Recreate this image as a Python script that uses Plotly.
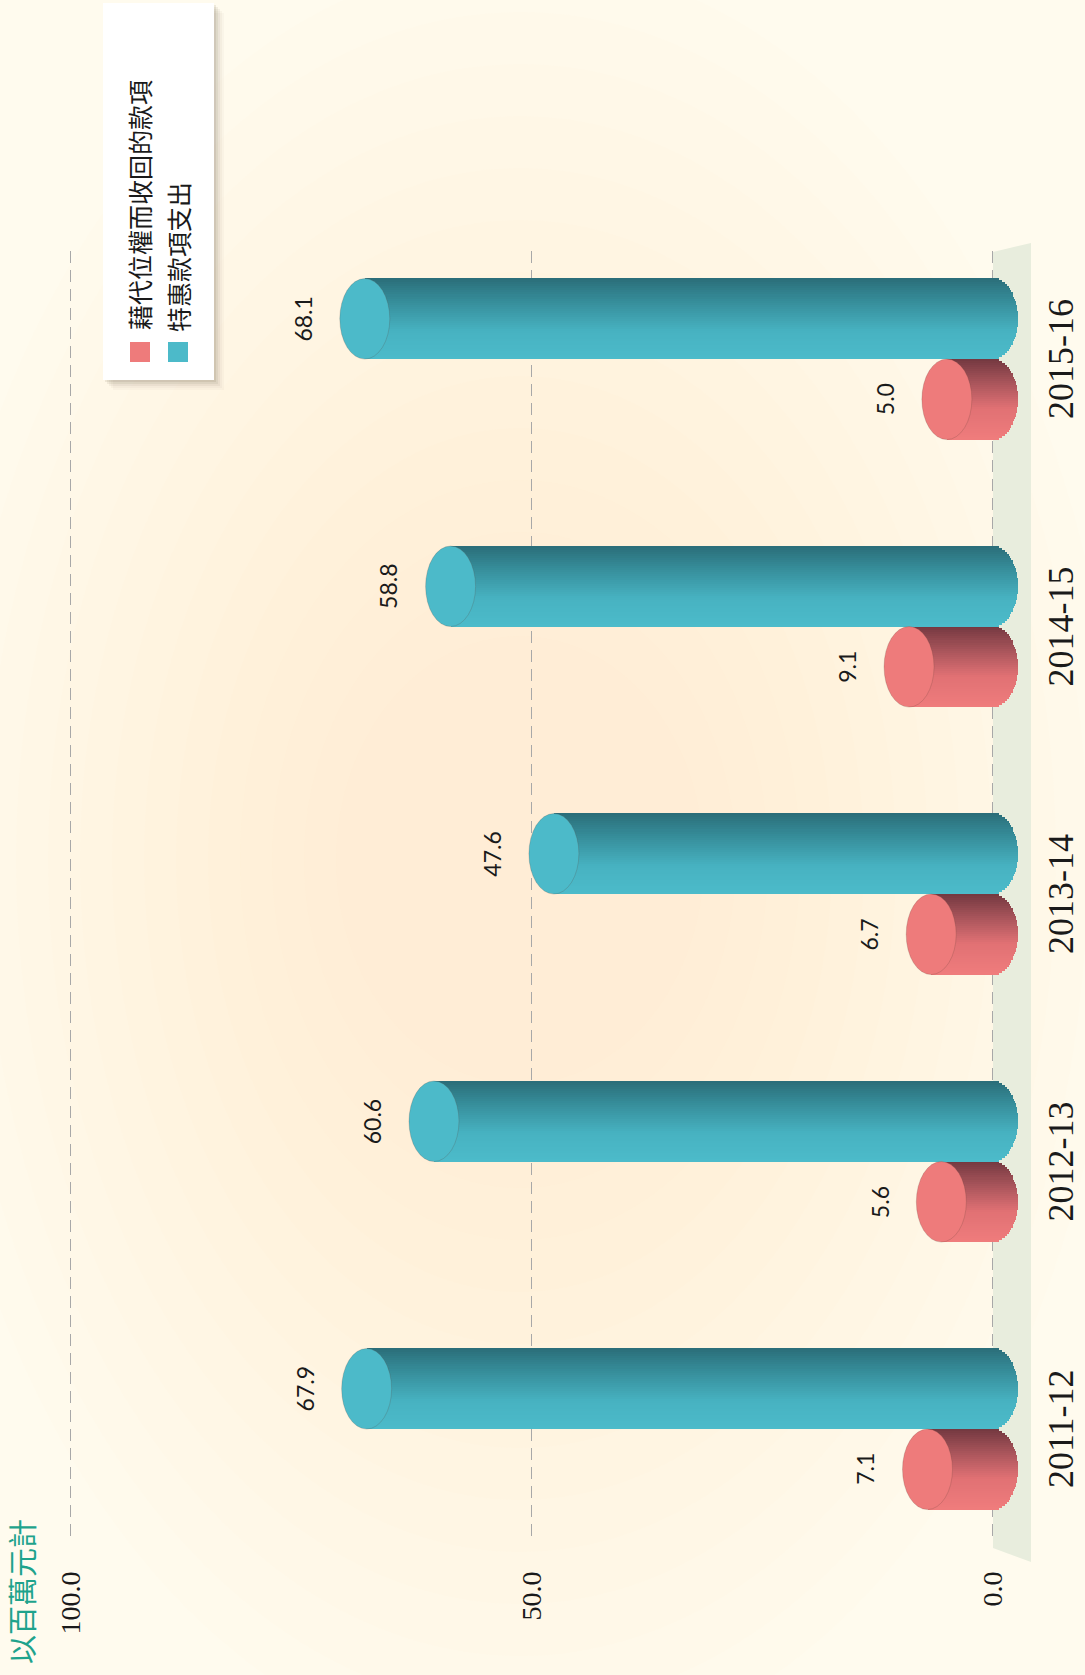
import numpy as np
import plotly.graph_objects as go

# ---------------- data ----------------
years = ["2011-12", "2012-13", "2013-14", "2014-15", "2015-16"]
recovered = [7.1, 5.6, 6.7, 9.1, 5.0]          # 藉代位權而收回的款項
special = [67.9, 60.6, 47.6, 58.8, 68.1]       # 特惠款項支出
series_names = ["藉代位權而收回的款項", "特惠款項支出"]
unit_label = "以百萬元計"
value_tickvals = [0, 50, 100]
value_ticktext = ["0.0", "50.0", "100.0"]

# ---------------- layout geometry ----------------
W_FIG, H_FIG = 1085, 1675
ML, MR, MT, MB = 40, 60, 251, 132
PW, PH = W_FIG - ML - MR, H_FIG - MT - MB
X_RANGE = [103.31, -3.47]
Y_RANGE = [-0.426, 4.404]
BAR_W = 0.301
N_STRIP = 40
CAP_A = 2.71  # half-width of the cylinder ellipse, in value units
SERIF = "Liberation Serif, Times New Roman, serif"


def pxx(px):
    return (px - ML) / PW


def pxy(py):
    return (H_FIG - MB - py) / PH


def hex2rgb(h):
    h = h.lstrip("#")
    return [int(h[i:i + 2], 16) for i in (0, 2, 4)]


def grad(stops, t):
    for (t0, c0), (t1, c1) in zip(stops[:-1], stops[1:]):
        if t0 <= t <= t1:
            f = (t - t0) / (t1 - t0) if t1 > t0 else 0
            a, b = hex2rgb(c0), hex2rgb(c1)
            return "rgb(%d,%d,%d)" % tuple(round(a[i] + (b[i] - a[i]) * f) for i in range(3))
    return stops[-1][1]


teal_stops = [(0, "#2a6d78"), (0.3, "#378f9c"), (0.65, "#47b2c1"), (1, "#4cbbca")]
pink_stops = [(0, "#733840"), (0.3, "#a9555b"), (0.62, "#e17174"), (1, "#ef7c7c")]
teal_cap = "#4cbac9"
pink_cap = "#ee7b7b"

cats = list(range(len(years)))
fig = go.Figure()
shapes = []
annotations = []

# background warm glow
NG = 14
for i in range(NG):
    rx = 600 - i * 32
    ry = 900 - i * 52
    cx, cy = 520, 860
    shapes.append(dict(type="circle", xref="paper", yref="paper", layer="below",
                       x0=pxx(cx - rx), x1=pxx(cx + rx), y0=pxy(cy + ry), y1=pxy(cy - ry),
                       fillcolor="#f7e2b6", opacity=0.029, line=dict(width=0)))

# floor strip next to the value 0 line
shapes.append(dict(type="path", xref="paper", yref="paper", layer="below",
                   path="M %f %f L %f %f L %f %f L %f %f Z" % (
                       pxx(993), pxy(252), pxx(1031), pxy(243), pxx(1031), pxy(1562), pxx(993), pxy(1548)),
                   fillcolor="#e8eddd", line=dict(width=0)))

series = [
    (recovered, pink_stops, pink_cap, 0.0),   # pink below the category centre
    (special, teal_stops, teal_cap, BAR_W),   # teal above the category centre
]

h = BAR_W / N_STRIP
for vals, stops, capc, top_off in series:
    centre_off = top_off - BAR_W / 2
    for k in range(N_STRIP):
        off = top_off - (k + 1) * h
        sc = (off + h / 2 - centre_off) / (BAR_W / 2)
        ext = CAP_A * np.sqrt(max(0.0, 1 - sc * sc))
        t = (k + 0.5) / N_STRIP
        fig.add_trace(go.Bar(
            orientation="h", y=cats, x=[v + ext for v in vals], base=[-ext] * len(vals),
            width=h * 1.08, offset=off, marker=dict(color=grad(stops, t), line=dict(width=0)),
            showlegend=False, hoverinfo="skip"))
    for c, v in zip(cats, vals):
        shapes.append(dict(type="circle", xref="x", yref="y", layer="above",
                           x0=v - CAP_A, x1=v + CAP_A,
                           y0=c + top_off - BAR_W, y1=c + top_off,
                           fillcolor=capc, line=dict(width=0.8, color="rgba(90,60,50,0.25)")))
        annotations.append(dict(x=v, y=c + centre_off, xref="x", yref="y", xshift=-62,
                                text="%.1f" % v, textangle=-90, showarrow=False,
                                xanchor="center", yanchor="middle",
                                font=dict(family="Lato", size=23, color="#1a1a1a")))

# category labels (right side, rotated)
for c, yr in zip(cats, years):
    annotations.append(dict(x=pxx(1061), y=c, xref="paper", yref="y", text=yr,
                            textangle=-90, showarrow=False, xanchor="center", yanchor="middle",
                            font=dict(family=SERIF, size=36, color="#1a1a1a")))

# legend box with shadow
lx0, lx1, ly0, ly1 = 103, 214, 3, 380
for i, op in enumerate([0.10, 0.08, 0.06, 0.04, 0.03]):
    d = 2 + i * 2
    shapes.append(dict(type="rect", xref="paper", yref="paper", layer="above",
                       x0=pxx(lx0 + d), x1=pxx(lx1 + d), y0=pxy(ly1 + d), y1=pxy(ly0 + d),
                       fillcolor="#5a4a30", opacity=op, line=dict(width=0)))
shapes.append(dict(type="rect", xref="paper", yref="paper", layer="above",
                   x0=pxx(lx0), x1=pxx(lx1), y0=pxy(ly1), y1=pxy(ly0),
                   fillcolor="#ffffff", line=dict(width=0)))
for (sx, col) in [(130, pink_cap), (168, teal_cap)]:
    shapes.append(dict(type="rect", xref="paper", yref="paper", layer="above",
                       x0=pxx(sx), x1=pxx(sx + 20), y0=pxy(362), y1=pxy(342),
                       fillcolor=col, line=dict(width=0)))
for name, (cx, cy) in zip(series_names, [(139, 205), (178, 257)]):
    annotations.append(dict(x=pxx(cx), y=pxy(cy), xref="paper", yref="paper", text=name,
                            textangle=-90, showarrow=False, xanchor="center", yanchor="middle",
                            font=dict(family="Noto Sans CJK TC", size=25, color="#1a1a1a")))

# unit label
annotations.append(dict(x=pxx(21), y=pxy(1592), xref="paper", yref="paper", text=unit_label,
                        textangle=-90, showarrow=False, xanchor="center", yanchor="middle",
                        font=dict(family="Noto Sans CJK TC", size=29, color="#1ea38c")))

fig.update_layout(
    width=W_FIG, height=H_FIG,
    margin=dict(l=ML, r=MR, t=MT, b=MB, autoexpand=False),
    paper_bgcolor="#fffbee", plot_bgcolor="rgba(0,0,0,0)",
    barmode="overlay", bargap=0,
    shapes=shapes, annotations=annotations, showlegend=False,
    xaxis=dict(range=X_RANGE, tickvals=value_tickvals, ticktext=value_ticktext,
               tickangle=-90, showgrid=True, gridcolor="#a8a8a8", gridwidth=1,
               griddash="12px,7px", zeroline=False, showline=False, ticks="",
               ticklabelstandoff=22,
               tickfont=dict(family=SERIF, size=28, color="#1a1a1a"),
               fixedrange=True),
    yaxis=dict(range=Y_RANGE, tickvals=cats, ticktext=years, side="right",
               showticklabels=False, showgrid=False, zeroline=False, showline=False,
               ticks="", fixedrange=True),
)

fig.write_html("out.html", config={"displayModeBar": False},
               post_script="document.body.style.margin='0';document.body.style.background='#fffbee';")
